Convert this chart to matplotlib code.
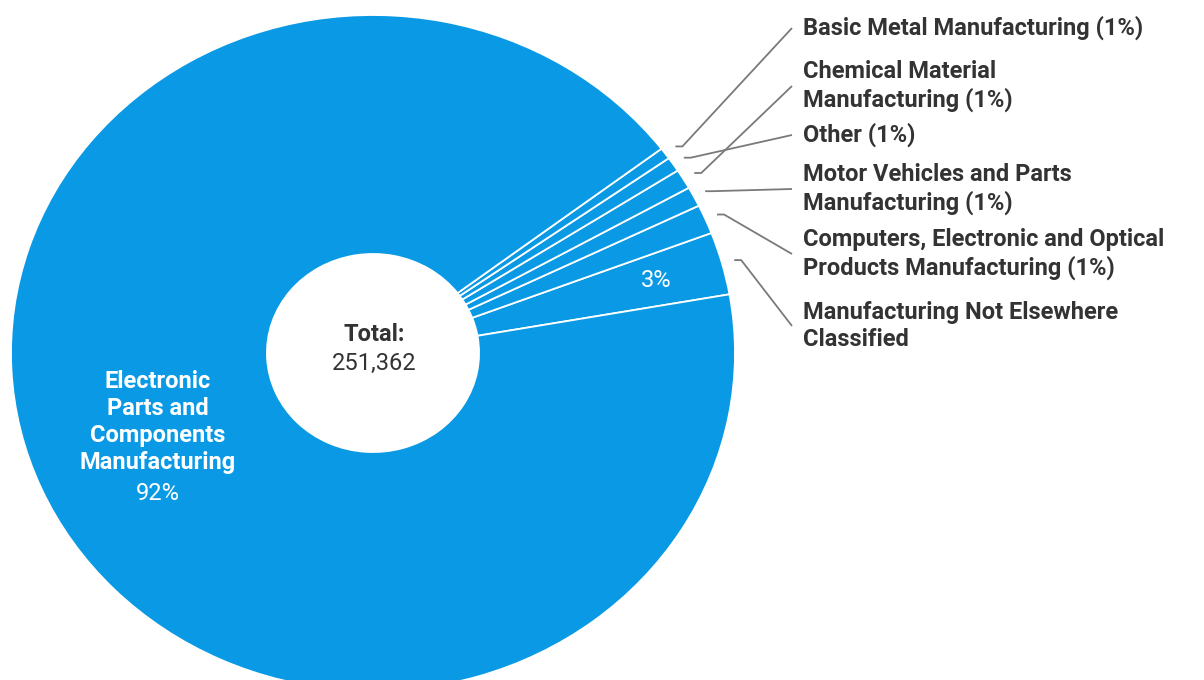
import numpy as np
import matplotlib.pyplot as plt

plt.rcParams['font.family'] = ['Roboto', 'DejaVu Sans']

# slices, counter-clockwise from the start angle
categories = [
    'Manufacturing Not Elsewhere\nClassified',
    'Computers, Electronic and Optical\nProducts Manufacturing',
    'Motor Vehicles and Parts\nManufacturing',
    'Chemical Material\nManufacturing',
    'Other',
    'Basic Metal Manufacturing',
    'Electronic\nParts and\nComponents\nManufacturing',
]
values = [7541, 3519, 2388, 2388, 1760, 1382, 232384]

# pixel y of each outside label (by slice index)
label_y = {0: 326, 1: 254, 2: 189, 3: 86, 4: 135, 5: 28}

BLUE = '#0a9ae5'
TEXT = '#333333'
LINE = '#7a7a7a'
FS = 17

W, H = 1204, 680
CX, CY = 373, 353        # centre of the donut in pixels
RX, RY = 362, 338        # outer radius in pixels (x, y)


def to_data(px, py):
    return (px - CX) / RX, (CY - py) / RY


fig = plt.figure(figsize=(W / 100, H / 100), dpi=100)
ax = fig.add_axes([0, 0, 1, 1])

wedges, _ = ax.pie(values, startangle=10, counterclock=True, radius=1,
                   colors=[BLUE] * len(values),
                   wedgeprops=dict(width=0.707, edgecolor='white', linewidth=1.3))
ax.set_aspect('auto')
ax.set_xlim(-CX / RX, (W - CX) / RX)
ax.set_ylim(-(H - CY) / RY, CY / RY)
ax.axis('off')

total = sum(values)
pcts = [round(100 * v / total) for v in values]

# centre text
tx, ty = to_data(374, 335)
ax.text(tx, ty, 'Total:', ha='center', va='center', fontsize=FS,
        fontweight='bold', color=TEXT)
tx, ty = to_data(374, 363)
ax.text(tx, ty, f'{total:,}', ha='center', va='center', fontsize=FS,
        color=TEXT)

# big slice label
bx, by = to_data(158, 422)
ax.text(bx, by, categories[-1], ha='center', va='center', fontsize=FS,
        fontweight='bold', color='white', linespacing=1.22)
bx, by = to_data(158, 493)
ax.text(bx, by, f'{pcts[-1]}%', ha='center', va='center', fontsize=FS,
        color='white')

# percentage inside the 3% slice
w = wedges[0]
mid = np.deg2rad((w.theta1 + w.theta2) / 2)
ax.text(0.81 * np.cos(mid), 0.81 * np.sin(mid), f'{pcts[0]}%',
        ha='center', va='center', fontsize=FS, color='white')

# outside labels with leader lines
hook = 7 / RX
for i, w in enumerate(wedges[:-1]):
    mid = np.deg2rad((w.theta1 + w.theta2) / 2)
    x0, y0 = 1.035 * np.cos(mid), 1.035 * np.sin(mid)
    text = categories[i] if i == 0 else f'{categories[i]} ({pcts[i]}%)'
    ly = label_y[i]
    ex, ey = to_data(792, ly)
    ax.plot([x0, x0 + hook, ex], [y0, y0, ey], color=LINE, lw=1.3,
            solid_capstyle='butt')
    lx, _ = to_data(803, ly)
    ax.text(lx, ey, text, ha='left', va='center', fontsize=FS,
            fontweight='bold', color=TEXT, linespacing=1.22)

fig.savefig('out.png', dpi=100, facecolor='white')
